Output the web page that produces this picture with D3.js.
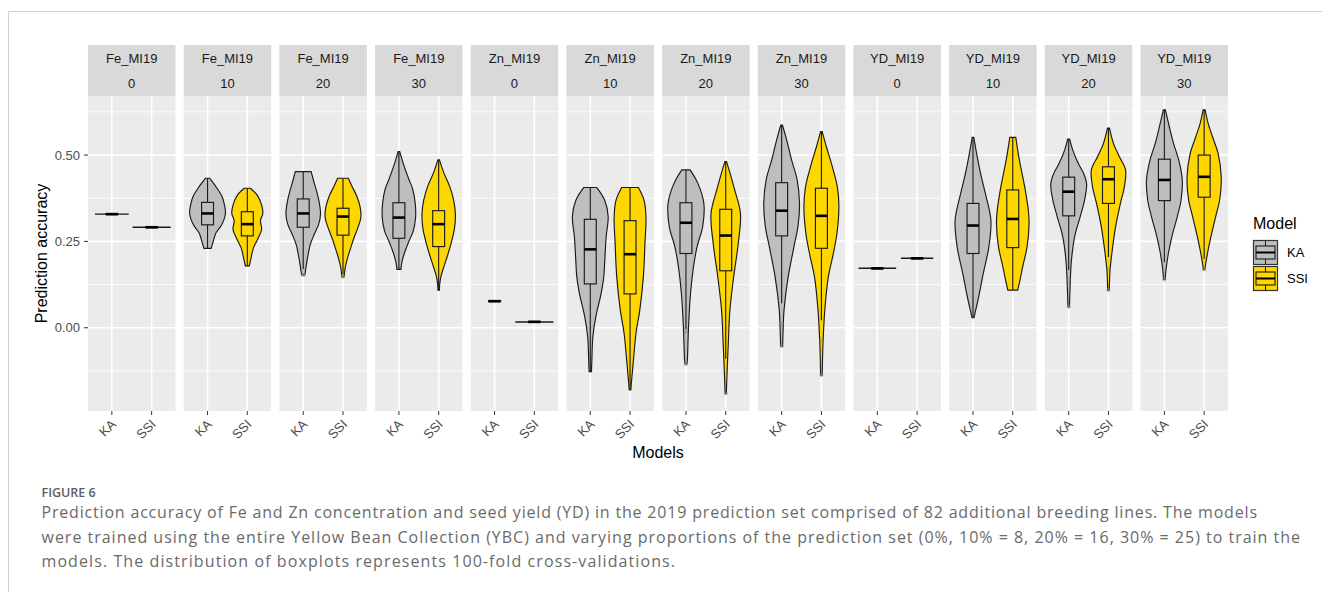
<!DOCTYPE html>
<html>
<head>
<meta charset="utf-8">
<script src="https://cdn.jsdelivr.net/npm/d3@7"></script>
<style>
  body { margin: 0; background: #fff; }
  svg { display: block; }
  .ax text { font-family: "Liberation Sans", Arial, sans-serif; }
</style>
</head>
<body>
<svg id="chart" width="1322" height="592"></svg>
<script>
// panels: trait / share of prediction set used in training
const panelTrait = ["Fe_MI19","Fe_MI19","Fe_MI19","Fe_MI19","Zn_MI19","Zn_MI19","Zn_MI19","Zn_MI19","YD_MI19","YD_MI19","YD_MI19","YD_MI19"];
const panelShare = ["0","10","20","30","0","10","20","30","0","10","20","30"];
const models = ["KA","SSI"];
const yTicks = [0, 0.25, 0.5];
const yMinor = [-0.125, 0.125, 0.375, 0.625];

// box stats per panel: [whisker low, q1, median, q3, whisker high]
const kaBox = [
  [0.328,0.3275,0.329,0.3305,0.331],
  [0.230,0.298,0.331,0.363,0.433],
  [0.170,0.291,0.331,0.373,0.452],
  [0.169,0.259,0.319,0.362,0.510],
  [0.076,0.0755,0.077,0.0785,0.078],
  [-0.127,0.127,0.227,0.314,0.406],
  [-0.004,0.215,0.304,0.362,0.457],
  [0.071,0.266,0.339,0.420,0.587],
  [0.171,0.1705,0.172,0.1735,0.173],
  [0.029,0.215,0.296,0.360,0.551],
  [0.167,0.324,0.394,0.436,0.546],
  [0.190,0.368,0.428,0.488,0.631]
];
const ssiBox = [
  [0.290,0.2895,0.291,0.2925,0.292],
  [0.179,0.266,0.300,0.336,0.404],
  [0.155,0.268,0.322,0.346,0.433],
  [0.109,0.235,0.300,0.339,0.486],
  [0.016,0.0155,0.017,0.0185,0.018],
  [-0.180,0.098,0.213,0.310,0.406],
  [-0.090,0.165,0.267,0.343,0.481],
  [0.022,0.230,0.324,0.404,0.568],
  [0.200,0.1995,0.201,0.2025,0.202],
  [0.109,0.232,0.315,0.399,0.551],
  [0.205,0.360,0.430,0.466,0.578],
  [0.200,0.378,0.437,0.500,0.631]
];

// violin outlines: [accuracy, full width in category units]
const kaViolin = [
  [[0.3285,0.82],[0.3295,0.82]],
  [[0.433,0.1],[0.408,0.43],[0.380,0.73],[0.363,0.82],[0.331,0.9],[0.298,0.71],[0.274,0.42],[0.25,0.29],[0.230,0.18]],
  [[0.452,0.4],[0.43,0.5],[0.40,0.65],[0.37,0.78],[0.33,0.87],[0.30,0.78],[0.27,0.55],[0.24,0.35],[0.20,0.21],[0.16,0.1],[0.153,0.08]],
  [[0.51,0.04],[0.47,0.25],[0.43,0.5],[0.40,0.7],[0.36,0.82],[0.32,0.84],[0.28,0.72],[0.25,0.5],[0.22,0.3],[0.19,0.15],[0.169,0.1]],
  [[0.0765,0.3],[0.0775,0.3]],
  [[0.406,0.33],[0.370,0.72],[0.322,0.9],[0.264,0.8],[0.196,0.73],[0.148,0.68],[0.10,0.55],[0.032,0.28],[-0.026,0.13],[-0.094,0.08],[-0.127,0.06]],
  [[0.457,0.21],[0.418,0.6],[0.36,0.9],[0.293,0.84],[0.235,0.56],[0.177,0.38],[0.10,0.23],[0.003,0.13],[-0.094,0.07],[-0.105,0.05]],
  [[0.587,0.04],[0.544,0.25],[0.486,0.5],[0.428,0.78],[0.36,0.9],[0.293,0.82],[0.235,0.62],[0.148,0.33],[0.051,0.12],[0.003,0.08],[-0.053,0.05]],
  [[0.1715,0.92],[0.1725,0.92]],
  [[0.551,0.04],[0.505,0.18],[0.447,0.38],[0.389,0.62],[0.312,0.9],[0.235,0.8],[0.158,0.52],[0.08,0.25],[0.042,0.1],[0.029,0.05]],
  [[0.546,0.05],[0.515,0.2],[0.476,0.48],[0.447,0.75],[0.418,0.9],[0.37,0.8],[0.322,0.58],[0.264,0.3],[0.196,0.14],[0.119,0.07],[0.061,0.04]],
  [[0.631,0.05],[0.582,0.25],[0.534,0.46],[0.486,0.72],[0.428,0.9],[0.37,0.84],[0.322,0.65],[0.264,0.38],[0.215,0.2],[0.167,0.08],[0.14,0.04]]
];
const ssiViolin = [
  [[0.2905,0.93],[0.2915,0.93]],
  [[0.404,0.15],[0.384,0.5],[0.355,0.72],[0.331,0.78],[0.31,0.66],[0.285,0.72],[0.26,0.55],[0.23,0.3],[0.20,0.18],[0.179,0.1]],
  [[0.433,0.27],[0.41,0.45],[0.38,0.7],[0.35,0.86],[0.32,0.9],[0.29,0.75],[0.26,0.55],[0.23,0.38],[0.20,0.22],[0.17,0.1],[0.148,0.06]],
  [[0.486,0.04],[0.45,0.25],[0.41,0.55],[0.37,0.75],[0.33,0.84],[0.29,0.8],[0.25,0.65],[0.21,0.45],[0.18,0.28],[0.15,0.12],[0.125,0.05],[0.109,0.04]],
  [[0.0165,0.93],[0.0175,0.93]],
  [[0.406,0.42],[0.37,0.7],[0.322,0.8],[0.244,0.75],[0.148,0.67],[0.051,0.49],[-0.016,0.3],[-0.094,0.17],[-0.152,0.08],[-0.18,0.04]],
  [[0.481,0.04],[0.447,0.22],[0.399,0.45],[0.331,0.74],[0.244,0.63],[0.148,0.4],[0.051,0.21],[-0.045,0.13],[-0.142,0.06],[-0.19,0.03]],
  [[0.568,0.04],[0.524,0.25],[0.466,0.55],[0.408,0.8],[0.35,0.88],[0.273,0.78],[0.215,0.6],[0.148,0.35],[0.051,0.17],[-0.045,0.08],[-0.137,0.04]],
  [[0.2005,0.78],[0.2015,0.78]],
  [[0.551,0.15],[0.486,0.33],[0.408,0.6],[0.341,0.78],[0.302,0.82],[0.235,0.72],[0.177,0.5],[0.129,0.33],[0.109,0.25]],
  [[0.578,0.05],[0.534,0.25],[0.495,0.55],[0.457,0.86],[0.408,0.8],[0.36,0.6],[0.293,0.36],[0.215,0.17],[0.167,0.08],[0.109,0.04]],
  [[0.631,0.05],[0.592,0.2],[0.553,0.42],[0.505,0.7],[0.437,0.86],[0.37,0.78],[0.322,0.58],[0.273,0.38],[0.225,0.2],[0.186,0.08],[0.169,0.04]]
];

const kaOutliers = [[],[],[0.153],[],[],[],[-0.012,-0.105],[0.012,-0.053],[],[],[0.14,0.061],[0.14]];
const ssiOutliers = [[],[],[0.148],[],[],[],[-0.19],[-0.036,-0.137],[],[],[0.17,0.109],[0.169]];

const captionTitle = "FIGURE 6";
const captionLines = [
  "Prediction accuracy of Fe and Zn concentration and seed yield (YD) in the 2019 prediction set comprised of 82 additional breeding lines. The models",
  "were trained using the entire Yellow Bean Collection (YBC) and varying proportions of the prediction set (0%, 10% = 8, 20% = 16, 30% = 25) to train the",
  "models. The distribution of boxplots represents 100-fold cross-validations."
];
const captionEnds = [1257, 1300, 675];

const fills = { KA: "#BEBEBE", SSI: "#FFD700" };
const font = '"Liberation Sans", Arial, sans-serif';

const svg = d3.select("#chart");

// outer frame of the figure
svg.append("path")
  .attr("d", "M8.5,592V11.5H1322")
  .attr("fill", "none").attr("stroke", "#cfcfcf").attr("stroke-width", 1);

const plotTop = 96, plotBottom = 411, stripTop = 45;

const xPanel = d3.scaleBand().domain(d3.range(12)).range([88, 1228]).paddingInner(0.0857).paddingOuter(0);
const xModel = d3.scalePoint().domain(models).range([0, xPanel.bandwidth()]).padding(0.6);
const unit = xModel.step();
const y = d3.scaleLinear().domain([-0.241, 0.671]).range([plotBottom, plotTop]);

const boxes = { KA: kaBox, SSI: ssiBox };
const violins = { KA: kaViolin, SSI: ssiViolin };
const outliers = { KA: kaOutliers, SSI: ssiOutliers };

const panels = svg.selectAll("g.panel")
  .data(d3.range(12))
  .join("g")
  .attr("class", "panel")
  .attr("transform", i => `translate(${xPanel(i)},0)`);

// strip
panels.append("rect")
  .attr("x", 0).attr("y", stripTop)
  .attr("width", xPanel.bandwidth()).attr("height", plotTop - stripTop)
  .attr("fill", "#D9D9D9");
panels.append("text")
  .attr("x", xPanel.bandwidth() / 2).attr("y", 62.5)
  .attr("text-anchor", "middle").attr("font-family", font).attr("font-size", 13)
  .attr("fill", "#1A1A1A")
  .text(i => panelTrait[i]);
panels.append("text")
  .attr("x", xPanel.bandwidth() / 2).attr("y", 88)
  .attr("text-anchor", "middle").attr("font-family", font).attr("font-size", 13)
  .attr("fill", "#1A1A1A")
  .text(i => panelShare[i]);

// panel background + grid
panels.append("rect")
  .attr("x", 0).attr("y", plotTop)
  .attr("width", xPanel.bandwidth()).attr("height", plotBottom - plotTop)
  .attr("fill", "#EBEBEB");
panels.each(function () {
  const g = d3.select(this);
  g.selectAll("line.minor").data(yMinor).join("line")
    .attr("x1", 0).attr("x2", xPanel.bandwidth())
    .attr("y1", d => y(d)).attr("y2", d => y(d))
    .attr("stroke", "#fff").attr("stroke-width", 0.8);
  g.selectAll("line.major").data(yTicks).join("line")
    .attr("x1", 0).attr("x2", xPanel.bandwidth())
    .attr("y1", d => y(d)).attr("y2", d => y(d))
    .attr("stroke", "#fff").attr("stroke-width", 1.6);
  g.selectAll("line.vmajor").data(models).join("line")
    .attr("x1", d => xModel(d)).attr("x2", d => xModel(d))
    .attr("y1", plotTop).attr("y2", plotBottom)
    .attr("stroke", "#fff").attr("stroke-width", 1.6);
});

const violinArea = (cx) => d3.area()
  .y(d => y(d[0]))
  .x0(d => cx - d[1] / 2 * unit)
  .x1(d => cx + d[1] / 2 * unit)
  .curve(d3.curveCatmullRom.alpha(0.5));

const boxW = 0.3 * unit;

panels.each(function (i) {
  const g = d3.select(this);
  models.forEach(m => {
    const cx = xModel(m);
    const prof = violins[m][i].slice().sort((a, b) => a[0] - b[0]);
    g.append("path")
      .attr("d", violinArea(cx)(prof))
      .attr("fill", fills[m]).attr("stroke", "#1a1a1a").attr("stroke-width", 1.15);
    const [lo, q1, med, q3, hi] = boxes[m][i];
    g.append("line")
      .attr("x1", cx).attr("x2", cx).attr("y1", y(lo)).attr("y2", y(hi))
      .attr("stroke", "#1a1a1a").attr("stroke-width", 1.1);
    g.append("rect")
      .attr("x", cx - boxW / 2).attr("width", boxW)
      .attr("y", y(q3)).attr("height", Math.max(0.5, y(q1) - y(q3)))
      .attr("fill", fills[m]).attr("stroke", "#1a1a1a").attr("stroke-width", 1.15);
    g.append("line")
      .attr("x1", cx - boxW / 2).attr("x2", cx + boxW / 2)
      .attr("y1", y(med)).attr("y2", y(med))
      .attr("stroke", "#000").attr("stroke-width", 2.6);
    g.selectAll(null).data(outliers[m][i]).join("circle")
      .attr("cx", cx).attr("cy", d => y(d)).attr("r", 2.1)
      .attr("fill", "#8a8a8a").attr("fill-opacity", 0.55);
  });
});

// y axis
const yAxis = svg.append("g").attr("class", "ax");
yAxis.selectAll("line").data(yTicks).join("line")
  .attr("x1", 84).attr("x2", 88).attr("y1", d => y(d)).attr("y2", d => y(d))
  .attr("stroke", "#333").attr("stroke-width", 1);
yAxis.selectAll("text").data(yTicks).join("text")
  .attr("x", 80).attr("y", d => y(d) + 4.5)
  .attr("text-anchor", "end").attr("font-size", 13).attr("fill", "#4D4D4D")
  .text(d => d3.format(".2f")(d));
svg.append("text")
  .attr("transform", `translate(47,${(plotTop + plotBottom) / 2}) rotate(-90)`)
  .attr("text-anchor", "middle").attr("font-family", font).attr("font-size", 16)
  .attr("fill", "#000")
  .text("Prediction accuracy");

// x axis per panel
panels.each(function () {
  const g = d3.select(this);
  g.selectAll("line.tick").data(models).join("line")
    .attr("x1", d => xModel(d)).attr("x2", d => xModel(d))
    .attr("y1", plotBottom).attr("y2", plotBottom + 4)
    .attr("stroke", "#333").attr("stroke-width", 1);
  g.selectAll("text.tick").data(models).join("text")
    .attr("transform", d => `translate(${xModel(d) + 5},${plotBottom + 14}) rotate(-45)`)
    .attr("text-anchor", "end").attr("font-family", font).attr("font-size", 13)
    .attr("fill", "#4D4D4D")
    .text(d => d);
});
svg.append("text")
  .attr("x", (88 + 1228) / 2).attr("y", 458)
  .attr("text-anchor", "middle").attr("font-family", font).attr("font-size", 16)
  .attr("fill", "#000")
  .text("Models");

// legend
const leg = svg.append("g").attr("transform", "translate(1253,0)");
leg.append("text").attr("x", 0).attr("y", 229)
  .attr("font-family", font).attr("font-size", 16).text("Model");
models.forEach((m, k) => {
  const ky = 240 + k * 26;
  const kg = leg.append("g").attr("transform", `translate(0,${ky})`);
  kg.append("rect").attr("x", 0.5).attr("y", 0.5).attr("width", 24).attr("height", 24)
    .attr("fill", fills[m]).attr("stroke", "#333").attr("stroke-width", 1.2);
  kg.append("line").attr("x1", 12.5).attr("x2", 12.5).attr("y1", 1).attr("y2", 24)
    .attr("stroke", "#1a1a1a").attr("stroke-width", 1);
  kg.append("rect").attr("x", 3).attr("y", 6).attr("width", 19).attr("height", 13)
    .attr("fill", fills[m]).attr("stroke", "#1a1a1a").attr("stroke-width", 1.1);
  kg.append("line").attr("x1", 3).attr("x2", 22).attr("y1", 12.5).attr("y2", 12.5)
    .attr("stroke", "#000").attr("stroke-width", 2);
  leg.append("text").attr("x", 34).attr("y", ky + 17)
    .attr("font-family", font).attr("font-size", 13).attr("fill", "#000").text(m);
});

// caption
svg.append("text")
  .attr("x", 41.5).attr("y", 496.5)
  .attr("font-family", "'Open Sans', Lato, sans-serif").attr("font-weight", 600)
  .attr("font-size", 12.5).attr("fill", "#5c5c5c")
  .text(captionTitle);
const cap = svg.append("g")
  .attr("font-family", "'Open Sans', Lato, sans-serif").attr("font-size", 16)
  .attr("fill", "#6a6a6a");
cap.selectAll("text").data(captionLines).join("text")
  .attr("x", 41.5).attr("y", (d, k) => 518 + k * 24.5)
  .attr("textLength", (d, k) => captionEnds[k] - 41.5)
  .attr("lengthAdjust", "spacing")
  .text(d => d);
</script>
</body>
</html>
